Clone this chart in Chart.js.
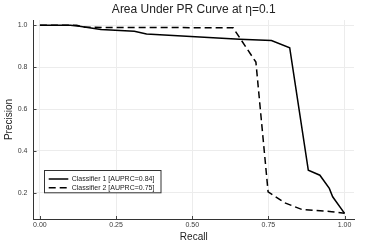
<!DOCTYPE html>
<html>
<head>
<meta charset="utf-8">
<script src="https://cdn.jsdelivr.net/npm/chart.js@4/dist/chart.umd.min.js"></script>
<style>
  html, body { margin: 0; padding: 0; background: #fff; }
  #wrap { width: 366px; height: 244px; }
</style>
</head>
<body>
<div id="wrap"><canvas id="pr" width="366" height="244"></canvas></div>
<script>
"use strict";

// Curva PR
const RECALL_1 = [0, 0.1, 0.13, 0.2, 0.31, 0.35, 0.656, 0.76, 0.82, 0.881, 0.919, 0.95, 0.961, 1.0];
const PREC_1 = [1.0, 1.0, 0.995, 0.98, 0.971, 0.958, 0.933, 0.927, 0.892, 0.308, 0.284, 0.221, 0.181, 0.102];
const RECALL_2 = [0, 0.12, 0.15, 0.634, 0.709, 0.749, 0.804, 0.859, 0.958, 1.0];
const PREC_2 = [1.0, 1.0, 0.99, 0.988, 0.824, 0.205, 0.152, 0.121, 0.11, 0.102];
const LABELS = ["Classifier 1 [AUPRC=0.84]", "Classifier 2 [AUPRC=0.75]"];
const X_TICKS = [0, 0.25, 0.5, 0.75, 1.0];
const Y_TICKS = [0.2, 0.4, 0.6, 0.8, 1.0];

const FONT = "'Liberation Sans', Arial, sans-serif";
Chart.defaults.font.family = FONT;
Chart.defaults.color = "#3a3a3a";

const pontos = (xs, ys) => xs.map((x, i) => ({ x, y: ys[i] }));

// marcas curtas para dentro, nos ticks dos dois eixos
const ticksDentro = {
  id: "ticksDentro",
  afterDraw(chart) {
    const { ctx, chartArea: a, scales } = chart;
    ctx.save();
    ctx.strokeStyle = "#444";
    ctx.lineWidth = 1;
    ctx.beginPath();
    scales.x.ticks.forEach((t) => {
      const px = Math.round(scales.x.getPixelForValue(t.value)) + 0.5;
      ctx.moveTo(px, a.bottom);
      ctx.lineTo(px, a.bottom - 3);
    });
    scales.y.ticks.forEach((t) => {
      const py = Math.round(scales.y.getPixelForValue(t.value)) + 0.5;
      ctx.moveTo(a.left, py);
      ctx.lineTo(a.left + 3, py);
    });
    ctx.stroke();
    ctx.restore();
  },
};

// legenda com moldura, no canto inferior esquerdo da área do gráfico
const legendaBox = {
  id: "legendaBox",
  afterDraw(chart) {
    const ctx = chart.ctx;
    const x0 = 44, y0 = 170, w = 116.5, h = 22.3;
    ctx.save();
    ctx.fillStyle = "#fff";
    ctx.fillRect(x0, y0, w, h);
    ctx.strokeStyle = "#333";
    ctx.lineWidth = 1;
    ctx.strokeRect(x0 + 0.5, y0 + 0.5, w, h);
    chart.data.datasets.forEach((ds, i) => {
      const cy = 179 + i * 8.7;
      ctx.beginPath();
      ctx.setLineDash(ds.borderDash || []);
      ctx.strokeStyle = ds.borderColor;
      ctx.lineWidth = ds.borderWidth;
      ctx.moveTo(48.7, cy);
      ctx.lineTo(68.3, cy);
      ctx.stroke();
      ctx.setLineDash([]);
      ctx.fillStyle = "#222";
      ctx.font = "7px " + FONT;
      ctx.textBaseline = "middle";
      ctx.textAlign = "left";
      ctx.fillText(ds.label, 71.7, cy + 0.3);
    });
    ctx.restore();
  },
};

new Chart(document.getElementById("pr"), {
  type: "scatter",
  data: {
    datasets: [
      { label: LABELS[0], data: pontos(RECALL_1, PREC_1), showLine: true, borderColor: "#000",
        borderWidth: 1.5, pointRadius: 0, fill: false, tension: 0 },
      { label: LABELS[1], data: pontos(RECALL_2, PREC_2), showLine: true, borderColor: "#000",
        borderWidth: 1.5, borderDash: [7, 4], pointRadius: 0, fill: false, tension: 0 },
    ],
  },
  options: {
    responsive: false,
    animation: false,
    layout: { padding: { top: 0, right: 12, bottom: 0, left: 0 } },
    plugins: {
      legend: { display: false },
      tooltip: { enabled: false },
      title: {
        display: true,
        text: "Area Under PR Curve at \u03b7=0.1",
        fullSize: false,
        color: "#222",
        font: { size: 12, weight: "normal" },
        padding: { top: 2, bottom: 3.6 },
      },
    },
    scales: {
      x: {
        type: "linear",
        min: -0.021,
        max: 1.031,
        afterBuildTicks: (s) => { s.ticks = X_TICKS.map((v) => ({ value: v })); },
        afterFit: (s) => { s.height = 25; },
        ticks: { font: { size: 7 }, padding: 2, maxRotation: 0,
          callback: (v) => Number(v).toFixed(2) },
        grid: { color: "#ececec", drawTicks: false },
        border: { color: "#333", width: 1 },
        title: { display: true, text: "Recall", color: "#222", font: { size: 10 },
          padding: { top: 0, bottom: 0.5 } },
      },
      y: {
        type: "linear",
        min: 0.075,
        max: 1.025,
        afterBuildTicks: (s) => { s.ticks = Y_TICKS.map((v) => ({ value: v })); },
        afterFit: (s) => { s.width = 33.5; },
        ticks: { font: { size: 7 }, padding: 6,
          callback: (v) => Number(v).toFixed(1) },
        grid: { color: "#ececec", drawTicks: false },
        border: { color: "#333", width: 1 },
        title: { display: true, text: "Precision", color: "#222", font: { size: 10 },
          padding: { top: 3, bottom: 0 } },
      },
    },
  },
  plugins: [ticksDentro, legendaBox],
});
</script>
</body>
</html>
